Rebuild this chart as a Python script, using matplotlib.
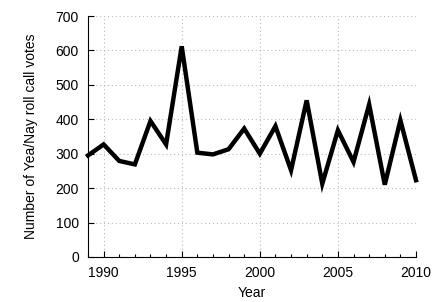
import matplotlib
matplotlib.use("Agg")
import matplotlib.pyplot as plt
from matplotlib.ticker import MultipleLocator

years = list(range(1989, 2011))
votes = [295, 327, 279, 269, 395, 327, 612, 303, 298, 313, 373, 300, 380, 252, 455, 213, 368, 276, 443, 210, 397, 223]
xticks = [1990, 1995, 2000, 2005, 2010]
yticks = [0, 100, 200, 300, 400, 500, 600, 700]

plt.rcParams['font.family'] = ['Liberation Sans', 'DejaVu Sans']
plt.rcParams['font.size'] = 10

fig = plt.figure(figsize=(4.32, 3.02), dpi=100)
ax = fig.add_axes([88/432, 45/302, (416-88)/432, (257-16)/302])
ax.plot(years, votes, color='black', lw=3.2, solid_joinstyle='miter', clip_on=False, zorder=3)
ax.set_xlim(1989, 2010)
ax.set_ylim(0, 700)
ax.set_xticks(xticks)
ax.set_yticks(yticks)
ax.xaxis.set_minor_locator(MultipleLocator(1))
ax.tick_params(direction='in', length=4, width=0.8, colors='black', pad=6.5)
ax.tick_params(which='minor', direction='in', length=2.5, width=0.8)
ax.grid(True, which='major', linestyle=(0, (1, 2.5)), color='#b8b8b8', lw=0.8)
for s in ['top', 'right']:
    ax.spines[s].set_visible(False)
ax.set_xlabel('Year', labelpad=4)
ax.set_ylabel('Number of Yea/Nay roll call votes', labelpad=13)
fig.savefig('out.png', dpi=100)
